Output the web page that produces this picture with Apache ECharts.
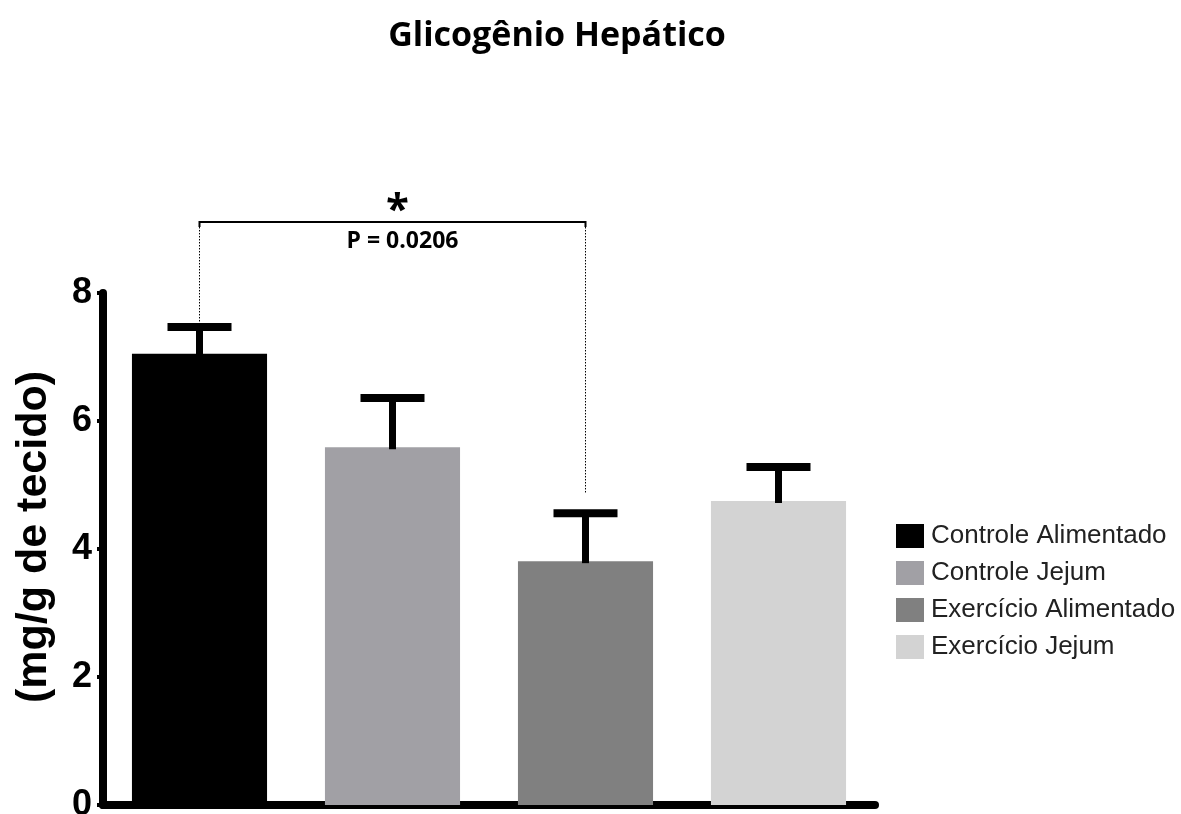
<!DOCTYPE html>
<html>
<head>
<meta charset="utf-8">
<script src="https://cdn.jsdelivr.net/npm/echarts@6/dist/echarts.min.js"></script>
<style>
  html, body { margin: 0; padding: 0; background: #fff; }
  #chart { width: 1181px; height: 814px; }
</style>
</head>
<body>
<div id="chart"></div>
<script>
// Liver glycogen per group (mean ± SEM)
const groups = ['Controle Alimentado', 'Controle Jejum', 'Exercício Alimentado', 'Exercício Jejum'];
const means = [7.05, 5.59, 3.81, 4.75];
const sems = [0.42, 0.77, 0.75, 0.53];
const colors = ['#000000', '#a1a0a5', '#808080', '#d3d3d3'];
const yTicks = [0, 2, 4, 6, 8];
const yTitle = '(mg/g de tecido)';

// Comparison bracket: group indices, bracket height, p-value text
const compareFrom = 0;
const compareTo = 2;
const bracketLevel = 9.11;
const pText = 'P = 0.0206';

const chart = echarts.init(document.getElementById('chart'));

const barSeries = groups.map((g, i) => ({
  name: g,
  type: 'bar',
  stack: 'all',
  barCategoryGap: '30%',
  itemStyle: { color: colors[i] },
  data: groups.map((_, j) => (j === i ? means[i] : '-')),
  z: 2
}));

const errorSeries = {
  type: 'custom',
  name: 'sem',
  silent: true,
  z: 5,
  data: means.map((m, i) => [i, m, m + sems[i]]),
  renderItem: function (params, api) {
    const x = api.value(0);
    const lo = api.coord([x, api.value(1)]);
    const hi = api.coord([x, api.value(2)]);
    const half = 32;
    return {
      type: 'group',
      children: [
        { type: 'line', shape: { x1: lo[0], y1: lo[1] + 2, x2: hi[0], y2: hi[1] },
          style: { stroke: '#000', lineWidth: 7 } },
        { type: 'line', shape: { x1: hi[0] - half, y1: hi[1], x2: hi[0] + half, y2: hi[1] },
          style: { stroke: '#000', lineWidth: 8 } }
      ]
    };
  }
};

const bracketSeries = {
  type: 'custom',
  name: 'bracket',
  silent: true,
  clip: false,
  z: 4,
  data: [[compareFrom, compareTo, bracketLevel, means[compareFrom] + sems[compareFrom], means[compareTo] + sems[compareTo] + 0.3]],
  renderItem: function (params, api) {
    const a = api.coord([api.value(0), api.value(2)]);
    const b = api.coord([api.value(1), api.value(2)]);
    const endA = api.coord([api.value(0), api.value(3)]);
    const endB = api.coord([api.value(1), api.value(4)]);
    const mid = (a[0] + b[0]) / 2;
    const y = a[1];
    return {
      type: 'group',
      children: [
        { type: 'polyline', shape: { points: [[a[0], y + 5], [a[0], y], [b[0], y], [b[0], y + 5]] },
          style: { stroke: '#000', lineWidth: 2, fill: null } },
        { type: 'line', shape: { x1: a[0], y1: y + 5, x2: a[0], y2: endA[1] - 4 },
          style: { stroke: '#000', lineWidth: 1, lineDash: [1.5, 1.5] } },
        { type: 'line', shape: { x1: b[0], y1: y + 5, x2: b[0], y2: endB[1] },
          style: { stroke: '#000', lineWidth: 1, lineDash: [1.5, 1.5] } },
        { type: 'text', x: mid + 5, y: y + 10,
          style: { text: '*', fontSize: 42, fontWeight: 'bold', fontFamily: 'Open Sans, sans-serif',
                   fill: '#000', align: 'center', verticalAlign: 'bottom' } },
        { type: 'text', x: mid + 10, y: y + 19,
          style: { text: pText, fontSize: 23, fontWeight: 'bold', fontFamily: 'Open Sans, sans-serif',
                   fill: '#000', align: 'center', verticalAlign: 'middle' } }
      ]
    };
  }
};

chart.setOption({
  animation: false,
  backgroundColor: '#fff',
  title: {
    text: 'Glicogênio Hepático',
    left: 552,
    top: 14,
    textAlign: 'center',
    textStyle: { fontSize: 34, fontWeight: 'bold', fontFamily: 'Open Sans, sans-serif', color: '#000' }
  },
  legend: {
    data: groups,
    orient: 'vertical',
    left: 891,
    top: 518,
    itemWidth: 28,
    itemHeight: 24,
    itemGap: 11,
    icon: 'rect',
    selectedMode: false,
    textStyle: { fontSize: 26, fontFamily: 'Liberation Sans, Arial, sans-serif', color: '#222', padding: [0, 0, 0, 2] }
  },
  graphic: [{
    type: 'text',
    x: 34,
    y: 537,
    rotation: Math.PI / 2,
    style: {
      text: yTitle, fontSize: 43, fontWeight: 'bold', fontFamily: 'Liberation Sans, Arial, sans-serif',
      fill: '#000', align: 'center', verticalAlign: 'middle'
    }
  }],
  grid: { left: 103, right: 306, top: 293, bottom: 9, containLabel: false, outerBoundsMode: 'none' },
  xAxis: {
    type: 'category',
    data: groups,
    axisLine: { lineStyle: { color: '#000', width: 8 } },
    axisTick: { alignWithLabel: true, length: 8, lineStyle: { color: '#000', width: 4 } },
    axisLabel: { show: false },
    splitLine: { show: false }
  },
  yAxis: {
    type: 'value',
    min: yTicks[0],
    max: yTicks[yTicks.length - 1],
    interval: 2,
    axisLine: { show: true, lineStyle: { color: '#000', width: 8 } },
    axisTick: { show: true, length: 6, lineStyle: { color: '#000', width: 4 } },
    axisLabel: { fontSize: 36, fontWeight: 'bold', fontFamily: 'Liberation Sans, Arial, sans-serif', color: '#000', margin: 11 },
    splitLine: { show: false }
  },
  series: [...barSeries, errorSeries, bracketSeries]
});
</script>
</body>
</html>
